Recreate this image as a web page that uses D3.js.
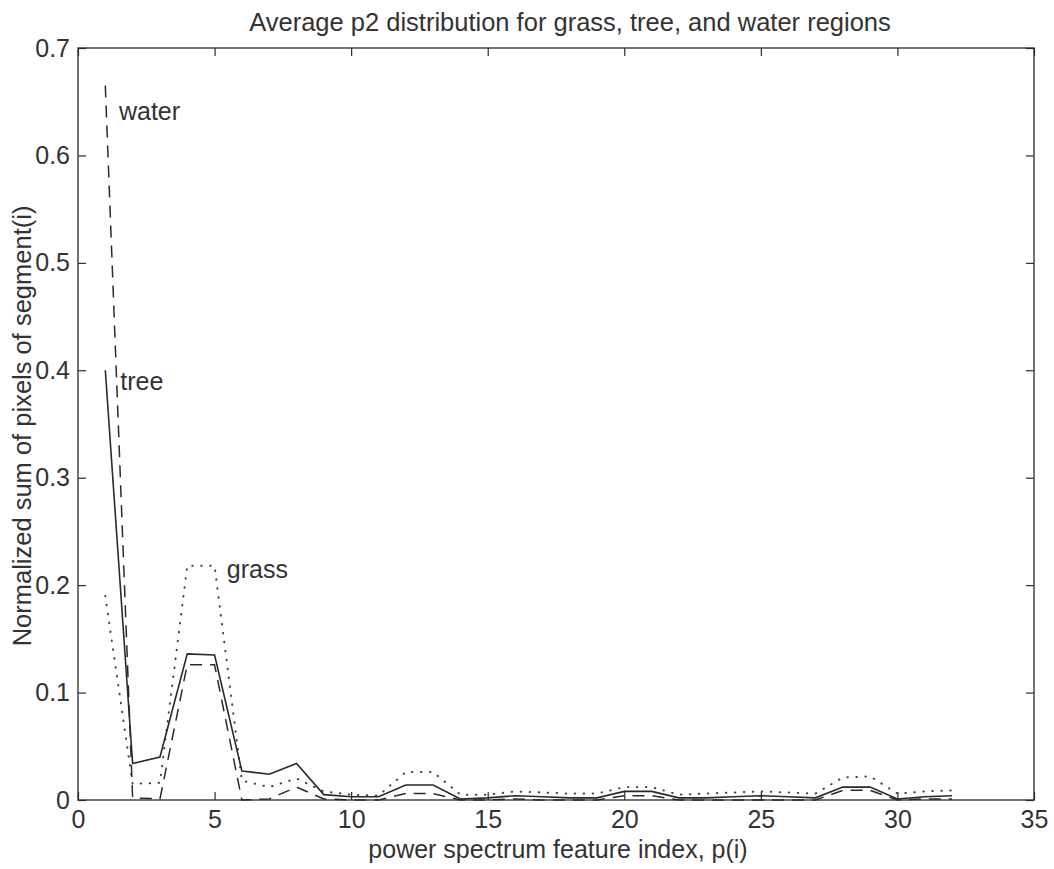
<!DOCTYPE html>
<html>
<head>
<meta charset="utf-8">
<script src="https://cdn.jsdelivr.net/npm/d3@7/dist/d3.min.js"></script>
<style>
  html, body { margin: 0; padding: 0; background: #fff; }
  svg { display: block; font-family: "Liberation Sans", Arial, Helvetica, sans-serif; }
</style>
</head>
<body>
<svg id="chart" width="1054" height="869"></svg>
<script>
// ---- data ----
const featureIndex = d3.range(1, 33);
const tree  = [0.400, 0.034, 0.040, 0.136, 0.135, 0.027, 0.024, 0.034, 0.005, 0.003, 0.003, 0.014, 0.014, 0.001, 0.002, 0.004,
               0.003, 0.002, 0.002, 0.008, 0.008, 0.002, 0.002, 0.003, 0.004, 0.003, 0.002, 0.012, 0.012, 0.001, 0.003, 0.004];
const water = [0.665, 0.002, 0.001, 0.126, 0.126, 0.000, 0.001, 0.012, 0.001, 0.000, 0.000, 0.006, 0.006, 0.000, 0.000, 0.001,
               0.000, 0.000, 0.000, 0.004, 0.004, 0.000, 0.000, 0.000, 0.000, 0.000, 0.000, 0.009, 0.009, 0.000, 0.001, 0.001];
const grass = [0.190, 0.015, 0.016, 0.218, 0.218, 0.018, 0.012, 0.020, 0.008, 0.005, 0.004, 0.026, 0.026, 0.005, 0.005, 0.008,
               0.007, 0.006, 0.006, 0.012, 0.012, 0.005, 0.006, 0.007, 0.008, 0.007, 0.006, 0.021, 0.022, 0.006, 0.008, 0.009];
const xTicks = [0, 5, 10, 15, 20, 25, 30, 35];
const yTicks = [0, 0.1, 0.2, 0.3, 0.4, 0.5, 0.6, 0.7];
const seriesNames = ["water", "tree", "grass"];
const labelPos = [[1.5, 0.633], [1.55, 0.382], [5.45, 0.207]];

// ---- layout ----
const L = 78, R = 1034, T = 48, B = 800;
const ink = "#2a2a2a";
const svg = d3.select("#chart");
const x = d3.scaleLinear().domain([0, 35]).range([L, R]);
const y = d3.scaleLinear().domain([0, 0.7]).range([B, T]);

// frame
svg.append("rect").attr("x", L).attr("y", T).attr("width", R - L).attr("height", B - T)
  .attr("fill", "none").attr("stroke", ink).attr("stroke-width", 1.3);

const tickFmtY = d => d === 0 ? "0" : d3.format(".1f")(d);

// axes (inner ticks, mirrored)
const axB = d3.axisBottom(x).tickValues(xTicks).tickSizeInner(-8).tickSizeOuter(0).tickPadding(10);
const axT = d3.axisTop(x).tickValues(xTicks).tickSizeInner(-8).tickSizeOuter(0).tickFormat("");
const axL = d3.axisLeft(y).tickValues(yTicks).tickSizeInner(-8).tickSizeOuter(0).tickPadding(8).tickFormat(tickFmtY);
const axR = d3.axisRight(y).tickValues(yTicks).tickSizeInner(-8).tickSizeOuter(0).tickFormat("");

function styleAxis(g) {
  g.select(".domain").remove();
  g.selectAll(".tick line").attr("stroke", ink).attr("stroke-width", 1.2);
  g.selectAll(".tick text").attr("fill", "#333").attr("font-size", 25);
}
svg.append("g").attr("transform", `translate(0,${B})`).call(axB).call(styleAxis);
svg.append("g").attr("transform", `translate(0,${T})`).call(axT).call(styleAxis);
svg.append("g").attr("transform", `translate(${L},0)`).call(axL).call(styleAxis);
svg.append("g").attr("transform", `translate(${R},0)`).call(axR).call(styleAxis);

// lines
const line = d3.line().x((d, i) => x(featureIndex[i])).y(d => y(d));
svg.append("path").datum(grass).attr("d", line).attr("fill", "none")
  .attr("stroke", "#444").attr("stroke-width", 2).attr("stroke-linecap", "round").attr("stroke-dasharray", "0.5 8.5");
svg.append("path").datum(water).attr("d", line).attr("fill", "none")
  .attr("stroke", ink).attr("stroke-width", 1.5).attr("stroke-dasharray", "12 8");
svg.append("path").datum(tree).attr("d", line).attr("fill", "none")
  .attr("stroke", ink).attr("stroke-width", 1.6);

// series labels
svg.selectAll(".slab").data(seriesNames).enter().append("text")
  .attr("x", (d, i) => x(labelPos[i][0]))
  .attr("y", (d, i) => y(labelPos[i][1]))
  .attr("font-size", 25).attr("fill", "#333").text(d => d);

// title and axis labels
svg.append("text").attr("x", 570).attr("y", 31).attr("text-anchor", "middle")
  .attr("font-size", 25.5).attr("fill", "#333")
  .text("Average p2 distribution for grass, tree, and water regions");
svg.append("text").attr("x", 558).attr("y", 858).attr("text-anchor", "middle")
  .attr("font-size", 25).attr("fill", "#333")
  .text("power spectrum feature index, p(i)");
svg.append("text").attr("transform", "translate(31,426) rotate(-90)").attr("text-anchor", "middle")
  .attr("font-size", 25.5).attr("fill", "#333")
  .text("Normalized sum of pixels of segment(i)");
</script>
</body>
</html>
